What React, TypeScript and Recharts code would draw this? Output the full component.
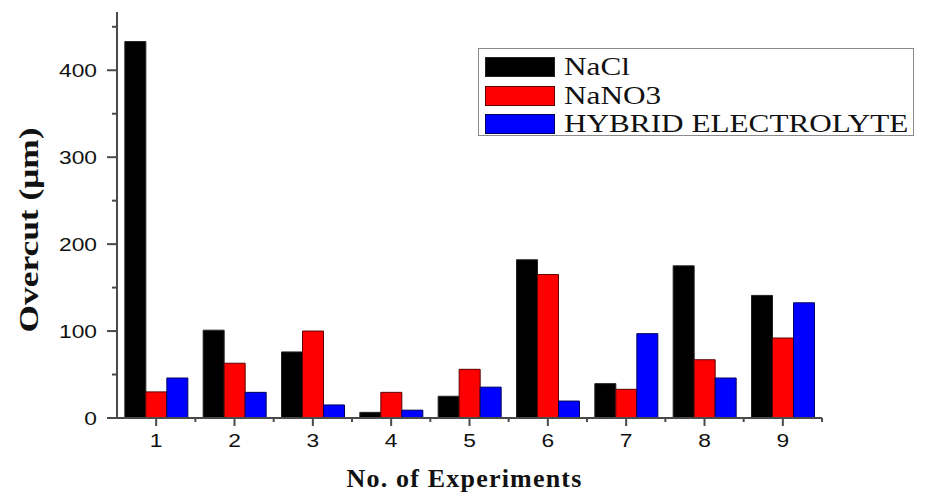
import { Bar, BarChart, Label, Legend, XAxis, YAxis } from "recharts"

// Overcut por experimento, três eletrólitos
const experiments = ["1", "2", "3", "4", "5", "6", "7", "8", "9"]
const nacl = [433, 101, 76, 6.5, 25, 182, 39.5, 175, 141]
const nano3 = [30, 63, 100, 29.5, 56, 165, 33, 67, 92]
const hybrid = [46, 29.5, 15, 9, 35.5, 19.5, 97, 46, 132.5]
const yTicks = [0, 50, 100, 150, 200, 250, 300, 350, 400, 450]

const series = [
  { key: "nacl", name: "NaCl", color: "#000000", stroke: "#222222" },
  { key: "nano3", name: "NaNO3", color: "#ff0000", stroke: "#5a0000" },
  { key: "hybrid", name: "HYBRID ELECTROLYTE", color: "#0000ff", stroke: "#00005a" },
]

const data = experiments.map((label, i) => ({
  label,
  nacl: nacl[i],
  nano3: nano3[i],
  hybrid: hybrid[i],
}))

const W = 925
const H = 493
const LEFT = 117
const RIGHT = 103
const TOP = 12
const BOTTOM = 75
const BAND = (W - LEFT - RIGHT) / experiments.length
const AXIS = "#4a4a4a"
const SANS = "'Liberation Sans', Arial, sans-serif"
const SERIF = "'Liberation Serif', 'Times New Roman', serif"

function YTick({ x, y, payload }: any) {
  const major = payload.value % 100 === 0
  return (
    <g>
      <line x1={x - (major ? 10 : 5)} x2={x} y1={y} y2={y} stroke={AXIS} strokeWidth={2} />
      {major && (
        <text
          transform={`translate(${x - 20},${y + 7}) scale(1.2,1)`}
          textAnchor="end"
          fontFamily={SANS}
          fontSize={19}
          fill="#111"
        >
          {payload.value}
        </text>
      )}
    </g>
  )
}

function XTick({ x, y, payload }: any) {
  return (
    <g>
      <line x1={x} x2={x} y1={y} y2={y + 8} stroke={AXIS} strokeWidth={2} />
      <line x1={x + BAND / 2} x2={x + BAND / 2} y1={y} y2={y + 4} stroke={AXIS} strokeWidth={2} />
      <text
        transform={`translate(${x},${y + 29}) scale(1.2,1)`}
        textAnchor="middle"
        fontFamily={SANS}
        fontSize={19}
        fill="#111"
      >
        {payload.value}
      </text>
    </g>
  )
}

// caixa da legenda desenhada à mão; o wrapper fica com tamanho 0 pra não
// roubar espaço da área do gráfico
function LegendBox() {
  return (
    <div
      style={{
        width: 436,
        height: 88,
        border: "1.5px solid #8a8a8a",
        background: "#fff",
        boxSizing: "border-box",
        paddingTop: 4,
      }}
    >
      {series.map((s) => (
        <div key={s.key} style={{ display: "flex", alignItems: "center", height: 28.5 }}>
          <div
            style={{
              width: 70,
              height: 20,
              marginLeft: 6,
              background: s.color,
              border: `1px solid ${s.stroke}`,
              boxSizing: "border-box",
            }}
          />
          <span
            style={{
              marginLeft: 9,
              fontFamily: SERIF,
              fontSize: 26,
              lineHeight: "26px",
              color: "#111",
              transform: "scaleX(1.2)",
              transformOrigin: "left center",
              whiteSpace: "nowrap",
            }}
          >
            {s.name}
          </span>
        </div>
      ))}
    </div>
  )
}

export default function App() {
  return (
    <div style={{ position: "absolute", left: 0, top: 0, width: W, height: H, background: "#fff" }}>
      <BarChart
        width={W}
        height={H}
        data={data}
        margin={{ top: TOP, right: RIGHT, left: 0, bottom: 0 }}
        barCategoryGap="10%"
        barGap={0}
      >
        <XAxis
          dataKey="label"
          height={BOTTOM}
          stroke={AXIS}
          strokeWidth={2}
          tickLine={false}
          tickSize={0}
          tickMargin={0}
          tick={<XTick />}
          interval={0}
        >
          <Label
            content={({ viewBox }: any) => (
              <text
                x={viewBox.x + viewBox.width / 2 - 5}
                y={viewBox.y + 69}
                textAnchor="middle"
                fontFamily={SERIF}
                fontWeight="bold"
                fontSize={26}
                letterSpacing={1.2}
                fill="#111"
              >
                No. of Experiments
              </text>
            )}
          />
        </XAxis>
        <YAxis
          width={LEFT}
          domain={[0, 467]}
          ticks={yTicks}
          allowDataOverflow
          stroke={AXIS}
          strokeWidth={2}
          tickLine={false}
          tickSize={0}
          tickMargin={0}
          tick={<YTick />}
          interval={0}
        >
          <Label
            content={({ viewBox }: any) => {
              const cx = 29
              const cy = viewBox.y + viewBox.height / 2 + 15
              return (
                <text
                  x={cx}
                  y={cy}
                  transform={`rotate(-90, ${cx}, ${cy})`}
                  textAnchor="middle"
                  dominantBaseline="central"
                  fontFamily={SERIF}
                  fontWeight="bold"
                  fontSize={27}
                  textLength={205}
                  lengthAdjust="spacingAndGlyphs"
                  fill="#111"
                >
                  Overcut (μm)
                </text>
              )
            }}
          />
        </YAxis>
        <Legend
          content={<LegendBox />}
          wrapperStyle={{ position: "absolute", left: 478, top: 48, width: 0, height: 0, overflow: "visible" }}
        />
        {series.map((s) => (
          <Bar
            key={s.key}
            dataKey={s.key}
            name={s.name}
            fill={s.color}
            stroke={s.stroke}
            strokeWidth={1}
            isAnimationActive={false}
          />
        ))}
      </BarChart>
    </div>
  )
}
